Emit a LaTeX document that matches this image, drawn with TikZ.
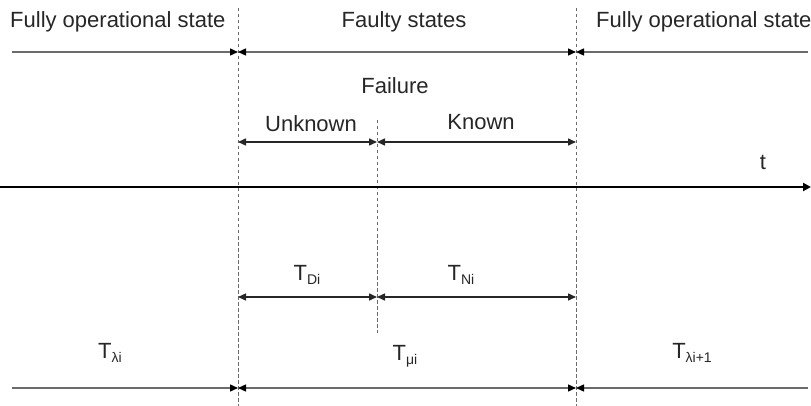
\documentclass[tikz,border=0pt]{standalone}
\usepackage{fontspec}
\setmainfont{Liberation Sans}
\usetikzlibrary{arrows.meta}
\definecolor{lgray}{gray}{0.42}
\newcommand{\sbs}[1]{\raisebox{-0.35ex}{\fontsize{14}{14}\selectfont #1}}
\tikzset{
  lbl/.style={inner sep=0pt, text=black!85, font=\fontsize{22}{26}\selectfont},
  vdash/.style={draw=lgray, line width=0.9pt, dash pattern=on 3.5pt off 2.5pt},
  grayarrow/.style={draw=lgray, line width=1.4pt, -{Triangle[length=8pt,width=7pt,color=black]}},
  graydbl/.style={draw=lgray, line width=1.4pt, {Triangle[length=8pt,width=7pt,color=black]}-{Triangle[length=8pt,width=7pt,color=black]}},
  blkdbl/.style={draw=black!85, line width=1.5pt, {Triangle[length=8pt,width=7pt]}-{Triangle[length=8pt,width=7pt]}},
  timeline/.style={draw=black, line width=2.8pt, -{Triangle[length=8pt,width=8pt]}}
}
\begin{document}
\begin{tikzpicture}[x=1pt,y=-1pt]
\useasboundingbox (0,0) rectangle (811,406);
% coordinates
\coordinate (A1) at (238,8);   \coordinate (A2) at (238,406);
\coordinate (B1) at (576,8);   \coordinate (B2) at (576,406);
\coordinate (C1) at (377,120); \coordinate (C2) at (377,333);
\coordinate (tl0) at (12,52);  \coordinate (tlA) at (238,52);
\coordinate (tlB) at (576,52); \coordinate (tl1) at (808,52);
\coordinate (uA) at (238,142); \coordinate (uC) at (377,142); \coordinate (uB) at (576,142);
\coordinate (dA) at (238,297); \coordinate (dC) at (377,297); \coordinate (dB) at (576,297);
\coordinate (bl0) at (12,388); \coordinate (blA) at (238,388);
\coordinate (blB) at (576,388); \coordinate (bl1) at (808,388);
\coordinate (t0) at (0,187);   \coordinate (t1) at (811,187);
% dashed lines
\draw[vdash] (A1) -- (A2);
\draw[vdash] (B1) -- (B2);
\draw[vdash] (C1) -- (C2);
% top row
\draw[grayarrow] (tl0) -- (tlA);
\draw[graydbl] (tlA) -- (tlB);
\draw[grayarrow] (tl1) -- (tlB);
% unknown / known
\draw[blkdbl] (uA) -- (uC);
\draw[blkdbl] (uC) -- (uB);
% timeline
\draw[timeline] (t0) -- (t1);
% TD / TN
\draw[blkdbl] (dA) -- (dC);
\draw[blkdbl] (dC) -- (dB);
% bottom row
\draw[grayarrow] (bl0) -- (blA);
\draw[graydbl] (blA) -- (blB);
\draw[grayarrow] (bl1) -- (blB);
% labels
\node[lbl, anchor=west] (fos1) at (10,22) {Fully operational state};
\node[lbl] (fs) at (404,22) {Faulty states};
\node[lbl, anchor=west] (fos2) at (596,22) {Fully operational state};
\node[lbl] (fail) at (395,86) {Failure};
\node[lbl] (unk) at (311,124) {Unknown};
\node[lbl] (kn) at (481,122) {Known};
\node[lbl] (t) at (763,162) {t};
\node[lbl] (TD) at (307,275) {T\sbs{Di}};
\node[lbl] (TN) at (461,275) {T\sbs{Ni}};
\node[lbl] (Tl) at (110,353) {T\sbs{λi}};
\node[lbl] (Tm) at (405,356) {T\sbs{μi}};
\node[lbl] (Tl1) at (692,353) {T\sbs{λi+1}};
\end{tikzpicture}
\end{document}
